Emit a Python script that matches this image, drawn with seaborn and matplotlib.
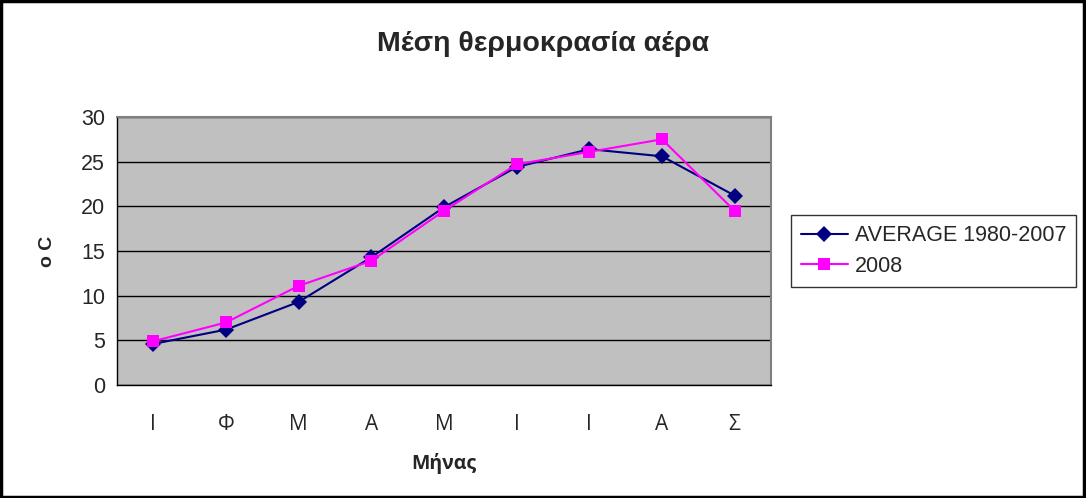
import matplotlib
matplotlib.use("Agg")
import matplotlib.pyplot as plt
import matplotlib.patches as mpatches
from matplotlib.ticker import FixedLocator, NullFormatter
import seaborn as sns
import pandas as pd

months = ["Ι", "Φ", "Μ", "Α", "Μ", "Ι", "Ι", "Α", "Σ"]
avg_1980_2007 = [4.6, 6.2, 9.3, 14.3, 19.9, 24.4, 26.4, 25.6, 21.2]
y2008 = [4.9, 7.0, 11.1, 13.9, 19.5, 24.7, 26.1, 27.5, 19.5]
series_names = ["AVERAGE 1980-2007", "2008"]
yticks = [0, 5, 10, 15, 20, 25, 30]

rows = []
for name, vals in zip(series_names, [avg_1980_2007, y2008]):
    for i, v in enumerate(vals):
        rows.append({"idx": i, "value": v, "series": name})
df = pd.DataFrame(rows)

sns.set_style("white")
plt.rcParams["font.family"] = ["Liberation Sans", "DejaVu Sans"]

fig = plt.figure(figsize=(10.86, 4.98), dpi=100)
ax = fig.add_axes([117/1086, 1-385/498, (771-117)/1086, (385-117)/498])
ax.set_facecolor("#C0C0C0")

sns.lineplot(data=df, x="idx", y="value", hue="series", style="series",
             markers={"AVERAGE 1980-2007": "D", "2008": "s"}, dashes=False,
             palette={"AVERAGE 1980-2007": "#000080", "2008": "#FF00FF"},
             markersize=8.5, linewidth=1.5, markeredgewidth=0, ax=ax, legend=True)

ax.set_xlim(-0.5, len(months) - 0.5)
ax.set_ylim(0, 30)
ax.set_yticks(yticks)
ax.yaxis.grid(True, color="black", linewidth=1)
ax.set_axisbelow(True)

ax.set_xticks(range(len(months)))
ax.set_xticklabels(months, fontsize=15, family=["Open Sans", "DejaVu Sans"])
ax.xaxis.set_minor_locator(FixedLocator([i - 0.5 for i in range(len(months) + 1)]))
ax.xaxis.set_minor_formatter(NullFormatter())
ax.tick_params(axis="x", which="major", length=0, pad=21)
ax.tick_params(axis="x", which="minor", length=5.5, width=1, color="black", direction="out")
ax.tick_params(axis="y", which="major", length=6.5, width=1, color="black", direction="out", labelsize=15.5, pad=2)

for s in ["top", "right"]:
    ax.spines[s].set_color("#808080")
    ax.spines[s].set_linewidth(1.5)
for s in ["left", "bottom"]:
    ax.spines[s].set_color("black")
    ax.spines[s].set_linewidth(1)

ax.set_xlabel("Μήνας", fontsize=14, fontweight="bold", family=["Open Sans", "DejaVu Sans"])
ax.xaxis.set_label_coords(0.5, (385 - 453) / 268)
ax.set_ylabel("o C", fontsize=14, fontweight="bold")
ax.yaxis.set_label_coords((56 - 117) / 654, 0.5)

fig.text(0.5, 1 - 44/498, "Μέση θερμοκρασία αέρα", ha="center", va="center",
         fontsize=20.5, fontweight="bold")

handles, labels = ax.get_legend_handles_labels()
leg = ax.legend(handles, labels, loc="center left", bbox_to_anchor=(791/1086, 1 - 251/498),
                bbox_transform=fig.transFigure, frameon=True, fontsize=15.5,
                fancybox=False, borderpad=0.45, handlelength=2.2, handletextpad=0.3,
                labelspacing=0.45, borderaxespad=0)
leg.get_frame().set_edgecolor("black")
leg.get_frame().set_linewidth(1)

fig.patches.append(mpatches.Rectangle((0.001, 0.002), 0.997, 0.996, transform=fig.transFigure,
                                      fill=False, edgecolor="black", linewidth=2.5))

fig.savefig("out.png", dpi=100)
